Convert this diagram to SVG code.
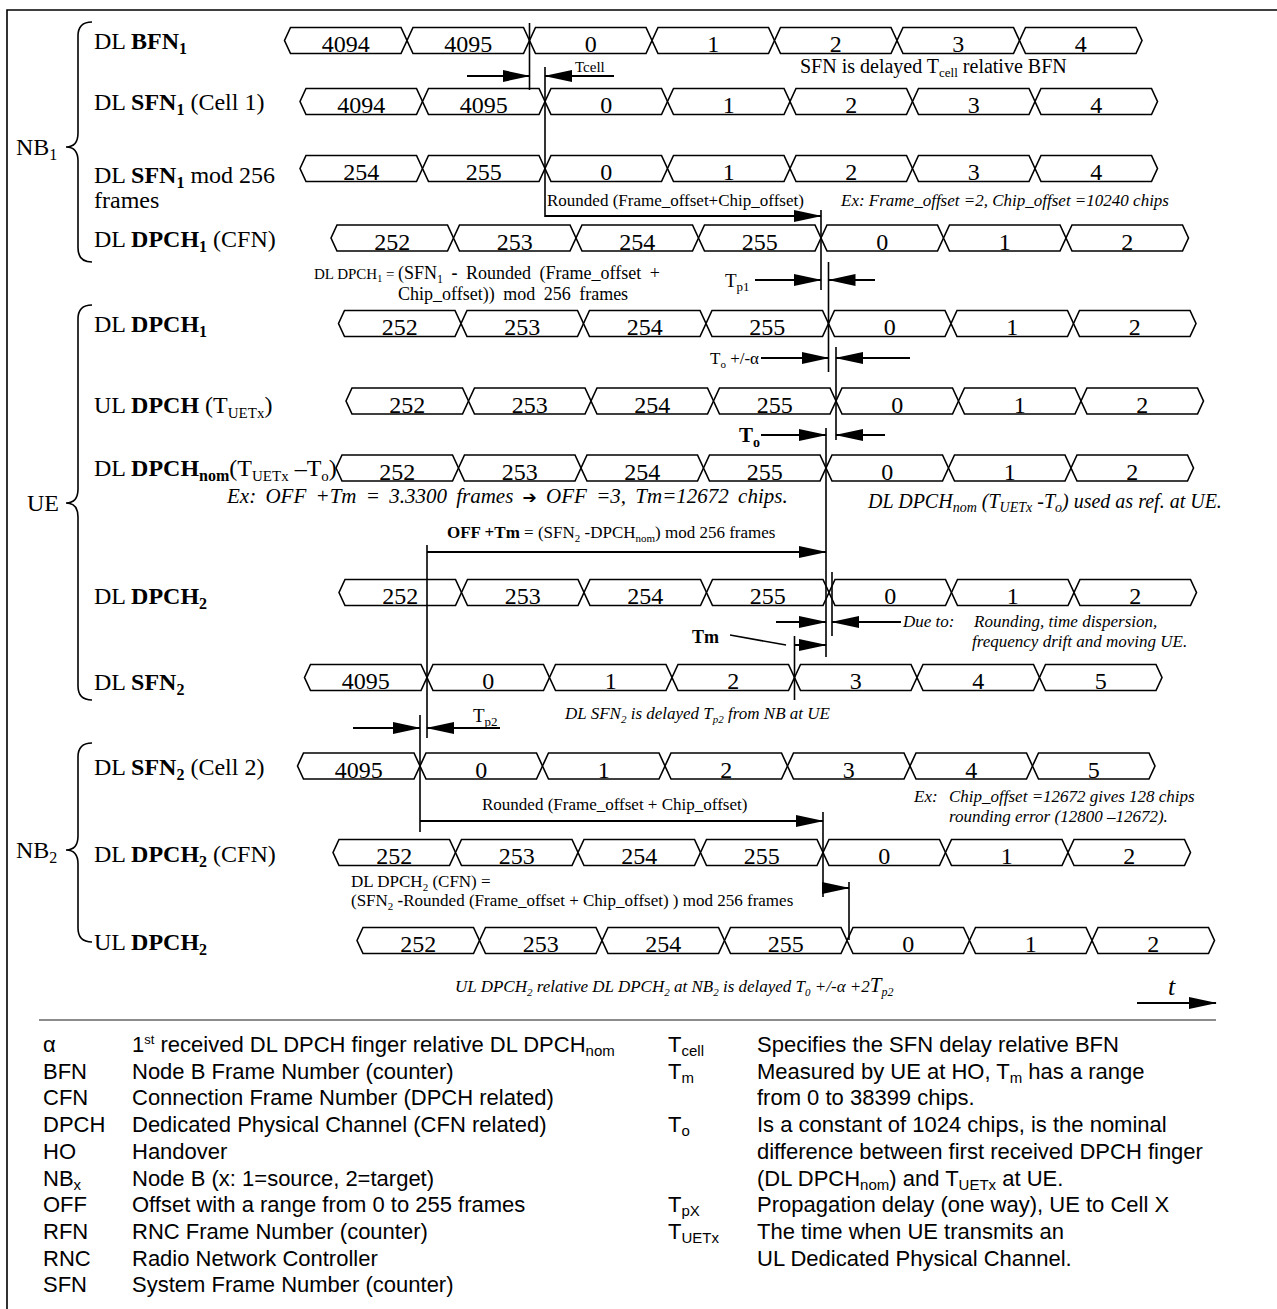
<svg xmlns="http://www.w3.org/2000/svg" xmlns:xlink="http://www.w3.org/1999/xlink" width="1277" height="1309" viewBox="0 0 1277 1309">
<style>
text{font-family:"Liberation Serif","Times New Roman",serif;fill:#000}
.lbl{font-size:24px}
.num{font-size:24px;text-anchor:middle}
.ann{font-size:17px}
.it{font-style:italic}
.b{font-weight:bold}
.leg{font-family:"Liberation Sans",Arial,sans-serif;font-size:22px}
.ln{stroke:#000;stroke-width:1.6;fill:none}
.ar{stroke:#000;stroke-width:2;fill:none;marker-end:url(#ah)}
.cell{fill:#fff;stroke:#000;stroke-width:1.6}
.br{stroke:#000;stroke-width:1.6;fill:none}
</style>
<defs>
<marker id="ah" markerUnits="userSpaceOnUse" markerWidth="28" markerHeight="12" refX="27" refY="6" orient="auto"><path d="M0,0 L28,6 L0,12 z" fill="#000"/></marker>
<polygon id="cell" points="0,0 6,-13 116.5,-13 122.5,0 116.5,13 6,13"/>
</defs>
<rect width="1277" height="1309" fill="#fff"/>
<path d="M7,1309 V10 H1277" class="ln" stroke-width="2"/>

<g id="braces">
<path class="br" d="M92,22 Q78,22 78,36 L78,133 Q78,147 66,147 Q78,147 78,161 L78,248 Q78,262 92,262"/>
<path class="br" d="M92,305 Q78,305 78,319 L78,489 Q78,503 66,503 Q78,503 78,517 L78,686 Q78,700 92,700"/>
<path class="br" d="M92,743 Q78,743 78,757 L78,836 Q78,850 66,850 Q78,850 78,864 L78,928 Q78,942 92,942"/>
<text class="lbl" x="16" y="155">NB<tspan font-size="16" dy="5">1</tspan></text>
<text class="lbl" x="27" y="511">UE</text>
<text class="lbl" x="16" y="858">NB<tspan font-size="16" dy="5">2</tspan></text>
</g>

<g id="row-bfn1">
<text class="lbl" x="94" y="49">DL <tspan class="b">BFN<tspan font-size="16" dy="5">1</tspan></tspan></text>
<g class="cell"><use xlink:href="#cell" x="284.5" y="40.5"/><use xlink:href="#cell" x="407" y="40.5"/><use xlink:href="#cell" x="529.5" y="40.5"/><use xlink:href="#cell" x="652" y="40.5"/><use xlink:href="#cell" x="774.5" y="40.5"/><use xlink:href="#cell" x="897" y="40.5"/><use xlink:href="#cell" x="1019.5" y="40.5"/></g>
<text class="num" y="52"><tspan x="345.75">4094</tspan><tspan x="468.25">4095</tspan><tspan x="590.75">0</tspan><tspan x="713.25">1</tspan><tspan x="835.75">2</tspan><tspan x="958.25">3</tspan><tspan x="1080.75">4</tspan></text>
</g>

<g id="row-sfn1">
<text class="lbl" x="94" y="110">DL <tspan class="b">SFN<tspan font-size="16" dy="5">1</tspan></tspan><tspan dy="-5"> (Cell 1)</tspan></text>
<g class="cell"><use xlink:href="#cell" x="300" y="101.5"/><use xlink:href="#cell" x="422.5" y="101.5"/><use xlink:href="#cell" x="545" y="101.5"/><use xlink:href="#cell" x="667.5" y="101.5"/><use xlink:href="#cell" x="790" y="101.5"/><use xlink:href="#cell" x="912.5" y="101.5"/><use xlink:href="#cell" x="1035" y="101.5"/></g>
<text class="num" y="113"><tspan x="361.25">4094</tspan><tspan x="483.75">4095</tspan><tspan x="606.25">0</tspan><tspan x="728.75">1</tspan><tspan x="851.25">2</tspan><tspan x="973.75">3</tspan><tspan x="1096.25">4</tspan></text>
</g>

<g id="row-sfn1mod">
<text class="lbl" x="94" y="183">DL <tspan class="b">SFN<tspan font-size="16" dy="5">1</tspan></tspan><tspan dy="-5"> mod 256</tspan></text>
<text class="lbl" x="94" y="208">frames</text>
<g class="cell"><use xlink:href="#cell" x="300" y="168.5"/><use xlink:href="#cell" x="422.5" y="168.5"/><use xlink:href="#cell" x="545" y="168.5"/><use xlink:href="#cell" x="667.5" y="168.5"/><use xlink:href="#cell" x="790" y="168.5"/><use xlink:href="#cell" x="912.5" y="168.5"/><use xlink:href="#cell" x="1035" y="168.5"/></g>
<text class="num" y="180"><tspan x="361.25">254</tspan><tspan x="483.75">255</tspan><tspan x="606.25">0</tspan><tspan x="728.75">1</tspan><tspan x="851.25">2</tspan><tspan x="973.75">3</tspan><tspan x="1096.25">4</tspan></text>
</g>

<g id="row-dpch1-cfn">
<text class="lbl" x="94" y="247">DL <tspan class="b">DPCH<tspan font-size="16" dy="5">1</tspan></tspan><tspan dy="-5"> (CFN)</tspan></text>
<g class="cell"><use xlink:href="#cell" x="331" y="238"/><use xlink:href="#cell" x="453.5" y="238"/><use xlink:href="#cell" x="576" y="238"/><use xlink:href="#cell" x="698.5" y="238"/><use xlink:href="#cell" x="821" y="238"/><use xlink:href="#cell" x="943.5" y="238"/><use xlink:href="#cell" x="1066" y="238"/></g>
<text class="num" y="249.5"><tspan x="392.25">252</tspan><tspan x="514.75">253</tspan><tspan x="637.25">254</tspan><tspan x="759.75">255</tspan><tspan x="882.25">0</tspan><tspan x="1004.75">1</tspan><tspan x="1127.25">2</tspan></text>
</g>

<g id="row-dpch1-ue">
<text class="lbl" x="94" y="332">DL <tspan class="b">DPCH<tspan font-size="16" dy="5">1</tspan></tspan></text>
<g class="cell"><use xlink:href="#cell" x="338.5" y="323.5"/><use xlink:href="#cell" x="461" y="323.5"/><use xlink:href="#cell" x="583.5" y="323.5"/><use xlink:href="#cell" x="706" y="323.5"/><use xlink:href="#cell" x="828.5" y="323.5"/><use xlink:href="#cell" x="951" y="323.5"/><use xlink:href="#cell" x="1073.5" y="323.5"/></g>
<text class="num" y="335"><tspan x="399.75">252</tspan><tspan x="522.25">253</tspan><tspan x="644.75">254</tspan><tspan x="767.25">255</tspan><tspan x="889.75">0</tspan><tspan x="1012.25">1</tspan><tspan x="1134.75">2</tspan></text>
</g>

<g id="row-ul-dpch">
<text class="lbl" x="94" y="413">UL <tspan class="b">DPCH</tspan> (T<tspan font-size="15" dy="5">UETx</tspan><tspan dy="-5">)</tspan></text>
<g class="cell"><use xlink:href="#cell" x="346" y="401"/><use xlink:href="#cell" x="468.5" y="401"/><use xlink:href="#cell" x="591" y="401"/><use xlink:href="#cell" x="713.5" y="401"/><use xlink:href="#cell" x="836" y="401"/><use xlink:href="#cell" x="958.5" y="401"/><use xlink:href="#cell" x="1081" y="401"/></g>
<text class="num" y="412.5"><tspan x="407.25">252</tspan><tspan x="529.75">253</tspan><tspan x="652.25">254</tspan><tspan x="774.75">255</tspan><tspan x="897.25">0</tspan><tspan x="1019.75">1</tspan><tspan x="1142.25">2</tspan></text>
</g>

<g id="row-dpch-nom">
<text class="lbl" x="94" y="476">DL <tspan class="b">DPCH<tspan font-size="16" dy="5">nom</tspan></tspan><tspan dy="-5">(T</tspan><tspan font-size="15" dy="5">UETx</tspan><tspan dy="-5"> –T</tspan><tspan font-size="15" dy="5">o</tspan><tspan dy="-5">)</tspan></text>
<g class="cell"><use xlink:href="#cell" x="336" y="468"/><use xlink:href="#cell" x="458.5" y="468"/><use xlink:href="#cell" x="581" y="468"/><use xlink:href="#cell" x="703.5" y="468"/><use xlink:href="#cell" x="826" y="468"/><use xlink:href="#cell" x="948.5" y="468"/><use xlink:href="#cell" x="1071" y="468"/></g>
<text class="num" y="479.5"><tspan x="397.25">252</tspan><tspan x="519.75">253</tspan><tspan x="642.25">254</tspan><tspan x="764.75">255</tspan><tspan x="887.25">0</tspan><tspan x="1009.75">1</tspan><tspan x="1132.25">2</tspan></text>
</g>

<g id="row-dpch2-ue">
<text class="lbl" x="94" y="604">DL <tspan class="b">DPCH<tspan font-size="16" dy="5">2</tspan></tspan></text>
<g class="cell"><use xlink:href="#cell" x="339" y="592.5"/><use xlink:href="#cell" x="461.5" y="592.5"/><use xlink:href="#cell" x="584" y="592.5"/><use xlink:href="#cell" x="706.5" y="592.5"/><use xlink:href="#cell" x="829" y="592.5"/><use xlink:href="#cell" x="951.5" y="592.5"/><use xlink:href="#cell" x="1074" y="592.5"/></g>
<text class="num" y="604"><tspan x="400.25">252</tspan><tspan x="522.75">253</tspan><tspan x="645.25">254</tspan><tspan x="767.75">255</tspan><tspan x="890.25">0</tspan><tspan x="1012.75">1</tspan><tspan x="1135.25">2</tspan></text>
</g>

<g id="row-sfn2-ue">
<text class="lbl" x="94" y="690">DL <tspan class="b">SFN<tspan font-size="16" dy="5">2</tspan></tspan></text>
<g class="cell"><use xlink:href="#cell" x="304.5" y="677.5"/><use xlink:href="#cell" x="427" y="677.5"/><use xlink:href="#cell" x="549.5" y="677.5"/><use xlink:href="#cell" x="672" y="677.5"/><use xlink:href="#cell" x="794.5" y="677.5"/><use xlink:href="#cell" x="917" y="677.5"/><use xlink:href="#cell" x="1039.5" y="677.5"/></g>
<text class="num" y="689"><tspan x="365.75">4095</tspan><tspan x="488.25">0</tspan><tspan x="610.75">1</tspan><tspan x="733.25">2</tspan><tspan x="855.75">3</tspan><tspan x="978.25">4</tspan><tspan x="1100.75">5</tspan></text>
</g>

<g id="row-sfn2-cell2">
<text class="lbl" x="94" y="775">DL <tspan class="b">SFN<tspan font-size="16" dy="5">2</tspan></tspan><tspan dy="-5"> (Cell 2)</tspan></text>
<g class="cell"><use xlink:href="#cell" x="297.5" y="766"/><use xlink:href="#cell" x="420" y="766"/><use xlink:href="#cell" x="542.5" y="766"/><use xlink:href="#cell" x="665" y="766"/><use xlink:href="#cell" x="787.5" y="766"/><use xlink:href="#cell" x="910" y="766"/><use xlink:href="#cell" x="1032.5" y="766"/></g>
<text class="num" y="777.5"><tspan x="358.75">4095</tspan><tspan x="481.25">0</tspan><tspan x="603.75">1</tspan><tspan x="726.25">2</tspan><tspan x="848.75">3</tspan><tspan x="971.25">4</tspan><tspan x="1093.75">5</tspan></text>
</g>

<g id="row-dpch2-cfn">
<text class="lbl" x="94" y="862">DL <tspan class="b">DPCH<tspan font-size="16" dy="5">2</tspan></tspan><tspan dy="-5"> (CFN)</tspan></text>
<g class="cell"><use xlink:href="#cell" x="333" y="852.5"/><use xlink:href="#cell" x="455.5" y="852.5"/><use xlink:href="#cell" x="578" y="852.5"/><use xlink:href="#cell" x="700.5" y="852.5"/><use xlink:href="#cell" x="823" y="852.5"/><use xlink:href="#cell" x="945.5" y="852.5"/><use xlink:href="#cell" x="1068" y="852.5"/></g>
<text class="num" y="864"><tspan x="394.25">252</tspan><tspan x="516.75">253</tspan><tspan x="639.25">254</tspan><tspan x="761.75">255</tspan><tspan x="884.25">0</tspan><tspan x="1006.75">1</tspan><tspan x="1129.25">2</tspan></text>
</g>

<g id="row-ul-dpch2">
<text class="lbl" x="94" y="950">UL <tspan class="b">DPCH<tspan font-size="16" dy="5">2</tspan></tspan></text>
<g class="cell"><use xlink:href="#cell" x="357" y="940.5"/><use xlink:href="#cell" x="479.5" y="940.5"/><use xlink:href="#cell" x="602" y="940.5"/><use xlink:href="#cell" x="724.5" y="940.5"/><use xlink:href="#cell" x="847" y="940.5"/><use xlink:href="#cell" x="969.5" y="940.5"/><use xlink:href="#cell" x="1092" y="940.5"/></g>
<text class="num" y="952"><tspan x="418.25">252</tspan><tspan x="540.75">253</tspan><tspan x="663.25">254</tspan><tspan x="785.75">255</tspan><tspan x="908.25">0</tspan><tspan x="1030.75">1</tspan><tspan x="1153.25">2</tspan></text>
</g>

<g id="connectors">
<line class="ln" x1="529.5" y1="23" x2="529.5" y2="90"/>
<line class="ln" x1="545" y1="67" x2="545" y2="217"/>
<line class="ar" x1="467" y1="76" x2="529.5" y2="76"/>
<line class="ar" x1="614" y1="76" x2="545" y2="76"/>
<line class="ar" x1="545" y1="216" x2="821" y2="216"/>
<line class="ln" x1="821" y1="210" x2="821" y2="290"/>
<line class="ar" x1="755" y1="280" x2="821" y2="280"/>
<line class="ln" x1="828.5" y1="262" x2="828.5" y2="372"/>
<line class="ar" x1="875" y1="280" x2="828.5" y2="280"/>
<line class="ar" x1="761" y1="358" x2="828.5" y2="358"/>
<line class="ln" x1="836" y1="347" x2="836" y2="440"/>
<line class="ar" x1="910" y1="358" x2="836" y2="358"/>
<line class="ar" x1="761" y1="435" x2="826" y2="435"/>
<line class="ln" x1="826" y1="428" x2="826" y2="657"/>
<line class="ar" x1="885" y1="435" x2="836" y2="435"/>
<line class="ln" x1="427" y1="545" x2="427" y2="738"/>
<line class="ar" x1="427" y1="552" x2="826" y2="552"/>
<line class="ln" x1="832" y1="572" x2="832" y2="636"/>
<line class="ar" x1="776" y1="622" x2="826" y2="622"/>
<line class="ar" x1="901" y1="622" x2="832" y2="622"/>
<line class="ln" x1="730" y1="635" x2="786" y2="645"/>
<line class="ln" x1="794.5" y1="636" x2="794.5" y2="700"/>
<line class="ar" x1="794.5" y1="645" x2="826" y2="645"/>
<line class="ar" x1="353" y1="728" x2="420" y2="728"/>
<line class="ln" x1="420" y1="715" x2="420" y2="832"/>
<line class="ar" x1="500" y1="728" x2="427" y2="728"/>
<line class="ar" x1="420" y1="821" x2="823" y2="821"/>
<line class="ln" x1="823" y1="812" x2="823" y2="897"/>
<line class="ar" x1="823" y1="888" x2="849" y2="888"/>
<line class="ln" x1="849" y1="882" x2="849" y2="940"/>
<line class="ar" x1="1137" y1="1003" x2="1216" y2="1003"/>
</g>

<g id="annotations">
<text class="ann" x="575" y="72" style="font-size:15px">Tcell</text>
<text class="ann" x="800" y="73" style="font-size:20px">SFN is delayed T<tspan font-size="13" dy="4">cell</tspan><tspan dy="-4"> relative BFN</tspan></text>
<text class="ann" x="547" y="206">Rounded (Frame_offset+Chip_offset)</text>
<text class="ann it" x="841" y="206">Ex: Frame_offset =2, Chip_offset =10240 chips</text>
<text class="ann" x="314" y="279" style="font-size:15px">DL DPCH<tspan font-size="10" dy="3">1</tspan><tspan dy="-3"> =</tspan></text>
<text class="ann" x="398" y="279" style="font-size:18px;word-spacing:4px">(SFN<tspan font-size="12" dy="4">1</tspan><tspan dy="-4"> </tspan><tspan class="b">-</tspan> Rounded (Frame_offset +</text>
<text class="ann" x="398" y="300" style="font-size:18px;word-spacing:4px">Chip_offset)) mod 256 frames</text>
<text class="ann" x="725" y="287" style="font-size:19px">T<tspan font-size="13" dy="4">p1</tspan></text>
<text class="ann" x="710" y="364">T<tspan font-size="11" dy="4">o</tspan><tspan dy="-4"> +/-α</tspan></text>
<text class="ann b" x="739" y="442" style="font-size:21px">T<tspan font-size="14" dy="5">o</tspan></text>
<text class="ann it" x="227" y="503" style="font-size:21px;word-spacing:4px">Ex: OFF +Tm = 3.3300 frames <tspan font-style="normal" font-family="DejaVu Sans" font-size="17">➔</tspan> OFF =3,  Tm=12672 chips.</text>
<text class="ann it" x="868" y="508" style="font-size:20px">DL DPCH<tspan font-size="14" dy="4">nom</tspan><tspan dy="-4"> (T</tspan><tspan font-size="14" dy="4">UETx</tspan><tspan dy="-4"> -T</tspan><tspan font-size="14" dy="4">o</tspan><tspan dy="-4">) used as ref. at UE.</tspan></text>
<text class="ann" x="447" y="538"><tspan class="b">OFF +Tm</tspan> = (SFN<tspan font-size="11" dy="4">2</tspan><tspan dy="-4"> -DPCH</tspan><tspan font-size="11" dy="4">nom</tspan><tspan dy="-4">) mod 256 frames</tspan></text>
<text class="ann it" x="903" y="627">Due to:</text>
<text class="ann it" x="974" y="627">Rounding, time dispersion,</text>
<text class="ann it" x="972" y="647">frequency drift and moving UE.</text>
<text class="ann b" x="692" y="643" style="font-size:18px">Tm</text>
<text class="ann it" x="565" y="719">DL SFN<tspan font-size="11" dy="4">2</tspan><tspan dy="-4"> is delayed T</tspan><tspan font-size="11" dy="4">p2</tspan><tspan dy="-4"> from NB at UE</tspan></text>
<text class="ann" x="473" y="722" style="font-size:19px">T<tspan font-size="13" dy="4">p2</tspan></text>
<text class="ann" x="482" y="810">Rounded (Frame_offset + Chip_offset)</text>
<text class="ann it" x="914" y="802">Ex:</text>
<text class="ann it" x="949" y="802">Chip_offset =12672 gives 128 chips</text>
<text class="ann it" x="949" y="822">rounding error (12800 –12672).</text>
<text class="ann" x="351" y="887">DL DPCH<tspan font-size="11" dy="4">2</tspan><tspan dy="-4"> (CFN) =</tspan></text>
<text class="ann" x="351" y="906">(SFN<tspan font-size="11" dy="4">2</tspan><tspan dy="-4"> </tspan><tspan class="b">-</tspan>Rounded (Frame_offset + Chip_offset) ) mod 256 frames</text>
<text class="ann it" x="455" y="992">UL DPCH<tspan font-size="11" dy="4">2</tspan><tspan dy="-4"> relative DL DPCH</tspan><tspan font-size="11" dy="4">2</tspan><tspan dy="-4"> at NB</tspan><tspan font-size="11" dy="4">2</tspan><tspan dy="-4"> is delayed T</tspan><tspan font-size="11" dy="4">0</tspan><tspan dy="-4"> +/-α +2</tspan><tspan font-size="21">T</tspan><tspan font-size="12" dy="4">p2</tspan></text>
<text class="it" x="1168" y="995" style="font-size:26px">t</text>
</g>

<g id="legend">
<line x1="39" y1="1020" x2="1216" y2="1020" stroke="#666" stroke-width="1.5"/>
<text class="leg" x="43" y="1052">α</text><text class="leg" x="132" y="1052">1<tspan font-size="13" dy="-8">st</tspan><tspan dy="8"> received DL DPCH finger relative DL DPCH</tspan><tspan font-size="15" dy="4">nom</tspan></text>
<text class="leg" x="43" y="1078.7">BFN</text><text class="leg" x="132" y="1078.7">Node B Frame Number (counter)</text>
<text class="leg" x="43" y="1105.4">CFN</text><text class="leg" x="132" y="1105.4">Connection Frame Number (DPCH related)</text>
<text class="leg" x="43" y="1132.1">DPCH</text><text class="leg" x="132" y="1132.1">Dedicated Physical Channel (CFN related)</text>
<text class="leg" x="43" y="1158.8">HO</text><text class="leg" x="132" y="1158.8">Handover</text>
<text class="leg" x="43" y="1185.5">NB<tspan font-size="15" dy="4">x</tspan></text><text class="leg" x="132" y="1185.5">Node B (x: 1=source, 2=target)</text>
<text class="leg" x="43" y="1212.2">OFF</text><text class="leg" x="132" y="1212.2">Offset with a range from 0 to 255 frames</text>
<text class="leg" x="43" y="1238.9">RFN</text><text class="leg" x="132" y="1238.9">RNC Frame Number (counter)</text>
<text class="leg" x="43" y="1265.6">RNC</text><text class="leg" x="132" y="1265.6">Radio Network Controller</text>
<text class="leg" x="43" y="1292.3">SFN</text><text class="leg" x="132" y="1292.3">System Frame Number (counter)</text>
<text class="leg" x="668" y="1052">T<tspan font-size="15" dy="4">cell</tspan></text><text class="leg" x="757" y="1052">Specifies the SFN delay relative BFN</text>
<text class="leg" x="668" y="1078.7">T<tspan font-size="15" dy="4">m</tspan></text><text class="leg" x="757" y="1078.7">Measured by UE at HO, T<tspan font-size="15" dy="4">m</tspan><tspan dy="-4"> has a range</tspan></text>
<text class="leg" x="757" y="1105.4">from 0 to 38399 chips.</text>
<text class="leg" x="668" y="1132.1">T<tspan font-size="15" dy="4">o</tspan></text><text class="leg" x="757" y="1132.1">Is a constant of 1024 chips, is the nominal</text>
<text class="leg" x="757" y="1158.8">difference between first received DPCH finger</text>
<text class="leg" x="757" y="1185.5">(DL DPCH<tspan font-size="15" dy="4">nom</tspan><tspan dy="-4">) and T</tspan><tspan font-size="15" dy="4">UETx</tspan><tspan dy="-4"> at UE.</tspan></text>
<text class="leg" x="668" y="1212.2">T<tspan font-size="15" dy="4">pX</tspan></text><text class="leg" x="757" y="1212.2">Propagation delay (one way), UE to Cell X</text>
<text class="leg" x="668" y="1238.9">T<tspan font-size="15" dy="4">UETx</tspan></text><text class="leg" x="757" y="1238.9">The time when UE transmits an</text>
<text class="leg" x="757" y="1265.6">UL Dedicated Physical Channel.</text>
</g>
</svg>
